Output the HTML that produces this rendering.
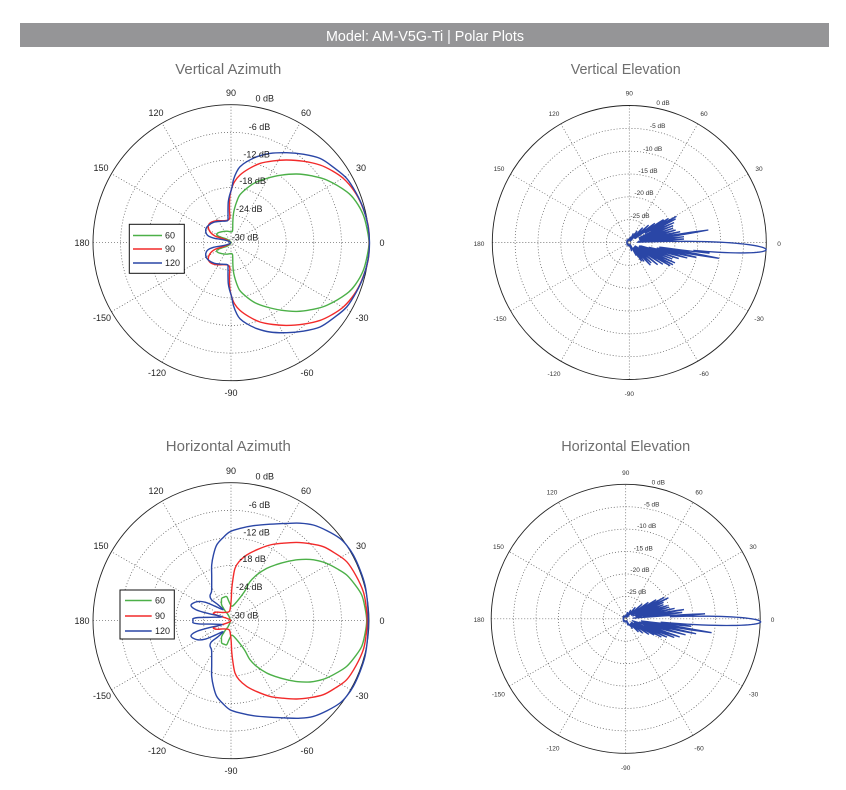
<!DOCTYPE html>
<html><head><meta charset="utf-8">
<style>
html,body{margin:0;padding:0;background:#fff;width:846px;height:790px;overflow:hidden}
svg{display:block}
.lt{font-family:"Liberation Sans",Arial,sans-serif;font-size:9px;fill:#222}
.rt{font-family:"Liberation Sans",Arial,sans-serif;font-size:6.5px;fill:#333}
.tt{font-family:"Liberation Sans",Arial,sans-serif;font-size:15px;fill:#6e6e6e}
</style>
</head><body>
<svg id="s" width="846" height="790" viewBox="0 0 846 790" xmlns="http://www.w3.org/2000/svg">
<rect x="20" y="23" width="809" height="24" fill="#959597"/>
<text x="425" y="41" fill="#fff" font-family="Liberation Sans, Arial, sans-serif" font-size="14.5" text-anchor="middle" textLength="198" lengthAdjust="spacingAndGlyphs">Model: AM-V5G-Ti | Polar Plots</text>

<text class="tt" x="228.3" y="74" text-anchor="middle" textLength="106" lengthAdjust="spacingAndGlyphs">Vertical Azimuth</text>
<text class="tt" x="625.7" y="74" text-anchor="middle" textLength="110" lengthAdjust="spacingAndGlyphs">Vertical Elevation</text>
<text class="tt" x="228.3" y="451" text-anchor="middle" textLength="125" lengthAdjust="spacingAndGlyphs">Horizontal Azimuth</text>
<text class="tt" x="625.7" y="451" text-anchor="middle" textLength="129" lengthAdjust="spacingAndGlyphs">Horizontal Elevation</text>

<g id="grids"></g>
<g id="curves"></g>

<!-- Top-left labels -->
<g class="lt" text-anchor="middle">
<text x="231" y="95.9">90</text>
<text x="306" y="116">60</text>
<text x="156" y="116">120</text>
<text x="361" y="170.9">30</text>
<text x="101" y="170.9">150</text>
<text x="382" y="245.9">0</text>
<text x="82" y="245.9">180</text>
<text x="362" y="320.9">-30</text>
<text x="102" y="320.9">-150</text>
<text x="307" y="375.8">-60</text>
<text x="157" y="375.8">-120</text>
<text x="231" y="395.9">-90</text>
<text x="264.8" y="101.5">0 dB</text>
<text x="259.5" y="129.9">-6 dB</text>
<text x="256.7" y="157.5">-12 dB</text>
<text x="252.7" y="184.2">-18 dB</text>
<text x="249.3" y="212.2">-24 dB</text>
<text x="245" y="240.5">-30 dB</text>
</g>
<!-- Bottom-left labels -->
<g class="lt" text-anchor="middle">
<text x="231" y="473.9">90</text>
<text x="306" y="494">60</text>
<text x="156" y="494">120</text>
<text x="361" y="548.9">30</text>
<text x="101" y="548.9">150</text>
<text x="382" y="623.9">0</text>
<text x="82" y="623.9">180</text>
<text x="362" y="698.9">-30</text>
<text x="102" y="698.9">-150</text>
<text x="307" y="753.8">-60</text>
<text x="157" y="753.8">-120</text>
<text x="231" y="773.9">-90</text>
<text x="264.8" y="479.5">0 dB</text>
<text x="259.5" y="507.9">-6 dB</text>
<text x="256.7" y="535.5">-12 dB</text>
<text x="252.7" y="562.2">-18 dB</text>
<text x="249.3" y="590.2">-24 dB</text>
<text x="245" y="618.5">-30 dB</text>
</g>
<!-- Top-right labels -->
<g class="rt" text-anchor="middle">
<text x="629.3" y="95.5">90</text>
<text x="704" y="116">60</text>
<text x="554" y="116">120</text>
<text x="759" y="170.9">30</text>
<text x="499" y="170.9">150</text>
<text x="779" y="245.9">0</text>
<text x="479" y="245.9">180</text>
<text x="759" y="320.9">-30</text>
<text x="500" y="320.9">-150</text>
<text x="704" y="375.8">-60</text>
<text x="554" y="375.8">-120</text>
<text x="629.3" y="395.9">-90</text>
<text x="663" y="105.2">0 dB</text>
<text x="657.7" y="128.2">-5 dB</text>
<text x="652.7" y="151.2">-10 dB</text>
<text x="648" y="172.9">-15 dB</text>
<text x="644" y="195.2">-20 dB</text>
<text x="640" y="217.9">-25 dB</text>
</g>
<!-- Bottom-right labels -->
<g class="rt" text-anchor="middle">
<text x="625.7" y="475.2">90</text>
<text x="699" y="494.5">60</text>
<text x="552" y="494.5">120</text>
<text x="753" y="548.9">30</text>
<text x="498.4" y="548.9">150</text>
<text x="772.5" y="622.2">0</text>
<text x="479" y="622.2">180</text>
<text x="753.5" y="696.3">-30</text>
<text x="498.4" y="696.3">-150</text>
<text x="699" y="750.3">-60</text>
<text x="553" y="750.3">-120</text>
<text x="625.7" y="769.9">-90</text>
<text x="658.3" y="484.5">0 dB</text>
<text x="651.7" y="506.5">-5 dB</text>
<text x="646.7" y="528.2">-10 dB</text>
<text x="643.3" y="550.5">-15 dB</text>
<text x="640" y="572.2">-20 dB</text>
<text x="636.7" y="593.9">-25 dB</text>
</g>

<!-- Legends -->
<g>
<rect x="129.3" y="224.3" width="55" height="49" fill="#fff" stroke="#111" stroke-width="1"/>
<line x1="133" y1="235.5" x2="162" y2="235.5" stroke="#4cb048" stroke-width="1.4"/>
<line x1="133" y1="249" x2="162" y2="249" stroke="#f22a2a" stroke-width="1.4"/>
<line x1="133" y1="263" x2="162" y2="263" stroke="#2a46a6" stroke-width="1.4"/>
<text class="lt" x="165" y="238.5">60</text>
<text class="lt" x="165" y="252">90</text>
<text class="lt" x="165" y="266">120</text>
</g>
<g>
<rect x="120" y="590" width="54.3" height="49" fill="#fff" stroke="#111" stroke-width="1"/>
<line x1="125" y1="600.5" x2="151.7" y2="600.5" stroke="#4cb048" stroke-width="1.4"/>
<line x1="125" y1="616" x2="151.7" y2="616" stroke="#f22a2a" stroke-width="1.4"/>
<line x1="125" y1="631" x2="151.7" y2="631" stroke="#2a46a6" stroke-width="1.4"/>
<text class="lt" x="155" y="603.5">60</text>
<text class="lt" x="155" y="619">90</text>
<text class="lt" x="155" y="634">120</text>
</g>
</svg>
<script>
(function(){
var NS="http://www.w3.org/2000/svg";
var grids=document.getElementById('grids'), curves=document.getElementById('curves');
function el(tag,attrs,parent){var e=document.createElementNS(NS,tag);for(var k in attrs)e.setAttribute(k,attrs[k]);parent.appendChild(e);return e;}
function grid(cx,cy,R,n){
  for(var k=1;k<n;k++){
    el('circle',{cx:cx,cy:cy,r:(R*k/n).toFixed(2),fill:'none',stroke:'#555','stroke-width':0.7,'stroke-dasharray':'1,2'},grids);
  }
  for(var a=0;a<180;a+=30){
    var t=a*Math.PI/180, dx=R*Math.cos(t), dy=R*Math.sin(t);
    el('line',{x1:(cx-dx).toFixed(2),y1:(cy+dy).toFixed(2),x2:(cx+dx).toFixed(2),y2:(cy-dy).toFixed(2),stroke:'#555','stroke-width':0.7,'stroke-dasharray':'1,2'},grids);
  }
  el('circle',{cx:cx,cy:cy,r:R,fill:'none',stroke:'#222','stroke-width':0.9},grids);
}
grid(231,242.7,138,5);
grid(231,620.7,138,5);
grid(629.3,242.5,137,6);
grid(625.7,618.8,134.5,6);

function cr(cx,cy,upper,color){
  var P=upper.concat(upper.slice(1).reverse().map(function(p){return [p[0],-p[1]];}));
  P=P.map(function(p){return [cx+p[0],cy-p[1]];});
  var n=P.length, d='M'+P[0][0].toFixed(2)+','+P[0][1].toFixed(2);
  for(var i=0;i<n;i++){
    var p0=P[(i-1+n)%n],p1=P[i],p2=P[(i+1)%n],p3=P[(i+2)%n];
    var c1x=p1[0]+(p2[0]-p0[0])/6,c1y=p1[1]+(p2[1]-p0[1])/6;
    var c2x=p2[0]-(p3[0]-p1[0])/6,c2y=p2[1]-(p3[1]-p1[1])/6;
    d+='C'+c1x.toFixed(2)+','+c1y.toFixed(2)+' '+c2x.toFixed(2)+','+c2y.toFixed(2)+' '+p2[0].toFixed(2)+','+p2[1].toFixed(2);
  }
  el('path',{d:d+'Z',fill:'none',stroke:color,'stroke-width':1.4,'stroke-linejoin':'round'},curves);
}
var G='#4cb048',Rd='#f22a2a',B='#2a46a6';
// Top-left: Vertical Azimuth
cr(231,242.7,[[138,0],[136,14],[132.3,27.7],[125,41],[115.7,51],[95.7,62.7],[80,67],[65.7,68.7],[50,67.5],[35.7,64.3],[24,60],[15.7,54.3],[9,48],[5.7,41],[3.5,34],[2.3,27.7],[1.8,20],[1.7,14.3],[1,11],[-4,11.5],[-9,11],[-13.5,9.5],[-14,7.5],[-10,5.5],[-4,3.5],[-0.5,1]],G);
cr(231,242.7,[[138.3,0],[137,18],[130.7,37.7],[123,52],[112.3,64.3],[101,72],[89,77.7],[72,81.5],[55.7,82.7],[42,81.8],[29,79.3],[18,74],[9,67.7],[3.5,61],[0.7,54.3],[-1,47],[-1.5,40],[-1.5,32],[-1.2,25],[-3,22.5],[-8,22],[-14.3,22],[-20,20.3],[-22.7,16.7],[-21,11],[-16,6.7],[-8,4],[-1.5,1.2]],Rd);
cr(231,242.7,[[138.5,0],[137,17],[132.3,34.3],[125,50],[115.7,64.3],[103,75],[89,84.3],[72,88.5],[55.7,90],[39,89.3],[26,86],[15.7,81],[9,76],[5.7,71],[2.5,63],[0.7,54.3],[-1.5,47],[-2.7,41],[-3,33],[-3,26],[-3.5,22],[-9,21.5],[-17,20.5],[-23,17],[-25.3,12.7],[-23.5,7.5],[-17,4.5],[-8,3],[-1.5,1]],B);
// Bottom-left: Horizontal Azimuth
cr(231,620.7,[[135.7,0],[134,13],[130.7,25.7],[124,36],[115.7,45.7],[106,52],[95.7,57.3],[87,60],[79,61.3],[67,61],[55.7,59],[45,56],[35.7,52.3],[26,46],[19,39],[14,30],[9,23],[4,17],[0.7,14.5],[-2,19],[-4.3,24],[-7,23.5],[-9.3,22.3],[-9.5,19],[-9.3,15.7],[-6,10],[-2.7,5.7],[-1,1.5]],G);
cr(231,620.7,[[136.3,0],[135,15],[132.3,29],[125,45],[115.7,59],[104,67.5],[92.3,74],[79,77],[65.7,78.3],[52,77.5],[39,75.7],[26,71],[15.7,65.7],[8,59],[4,52.3],[2,42],[0.7,31],[0.3,22.3],[-0.5,14],[-2,9],[-8,8.2],[-14,8.6],[-17.7,7.3],[-14,5.5],[-6,3],[-1,1]],Rd);
cr(231,620.7,[[137.3,0],[136.5,18],[134,35.7],[129,51],[122.3,65.7],[116,75],[109,82.3],[96,90],[82.3,95.7],[69,97.5],[55.7,97.3],[39,96.5],[22.3,95],[10,92.5],[-1,89],[-8,83],[-14.3,75.7],[-17.5,66],[-19.3,55.7],[-19.3,45],[-19.3,35],[-19.5,29],[-21,25],[-19.5,21],[-13,16],[-8,11],[-16,14.5],[-26,18.5],[-34,19],[-40,15.5],[-35,11],[-22,7],[-9,4],[-20,3.4],[-32,3.2],[-37.7,2.2],[-38,0.8]],B);

function elev(cx,cy,lobes,color){
  var d='';
  for(var a=-180;a<=180.001;a+=0.2){
    var r=(a>-62&&a<48)?7:2.5;
    for(var i=0;i<lobes.length;i++){
      var l=lobes[i],u=Math.abs(a-l[0])/l[2];
      if(u<1){var v=l[3]?l[1]*(1-u*u):l[1]*(1-u); if(v>r)r=v;}
    }
    var t=a*Math.PI/180,x=cx+r*Math.cos(t),y=cy-r*Math.sin(t);
    d+=(d?'L':'M')+x.toFixed(2)+','+y.toFixed(2);
  }
  el('path',{d:d+'Z',fill:'none',stroke:color,'stroke-width':1.35,'stroke-linejoin':'miter'},curves);
}
elev(629.3,242.5,[[-3,137,5.5,1],
[3.7,58,1.5],[6,55,1.6],[9,80,1.8],[12,52,1.8],[15,48,1.8],[18,46,1.8],[21,47,1.8],[24,49,1.8],[27,52,1.8],[29,54,1.8],[31.5,48,1.8],[33.7,43,1.8],[37,32,2],[42,26,2],[48,20,2.2],[56,14,2.5],[66,10,2.5],[80,6,3],[100,4,3],[130,4,3],[165,3,3],
[-7.5,85,1.8],[-10,91,1.8],[-12.5,72,1.8],[-15,60,1.8],[-18,52,1.8],[-21,46,1.8],[-24,50,1.8],[-27,49,1.8],[-29.5,49,1.8],[-33,40,1.8],[-38,36,2],[-43,30,2],[-47,31,2],[-52,24,2],[-56.5,23,2],[-62,15,2.5],[-75,9,3],[-100,4,3],[-130,4,3],[-165,3,3]],B);
elev(625.7,618.8,[[-1.3,135,5,1],
[3.6,79.5,1.5],[6.5,60,1.6],[9,59,1.7],[12,50,1.8],[15,45,1.8],[17.6,44,1.8],[20.5,42,1.8],[23.5,43,1.8],[26.2,47.6,1.8],[29,44,1.8],[32,36,1.8],[36,28,2],[42,22,2],[50,15,2.2],[60,10,2.5],[75,7,3],[100,4,3],[135,4,3],[170,3,3],
[-6.5,70,1.5],[-9.2,87,1.7],[-12,72,1.8],[-15,62,1.8],[-18.6,57,1.8],[-21,52,1.8],[-24,45,1.8],[-27,40,1.8],[-29.7,34,1.8],[-34,28,2],[-40,22,2],[-46,18.4,2.2],[-55,12,2.5],[-70,7,3],[-100,4,3],[-135,4,3],[-170,3,3]],B);
})();
</script>
</body></html>
